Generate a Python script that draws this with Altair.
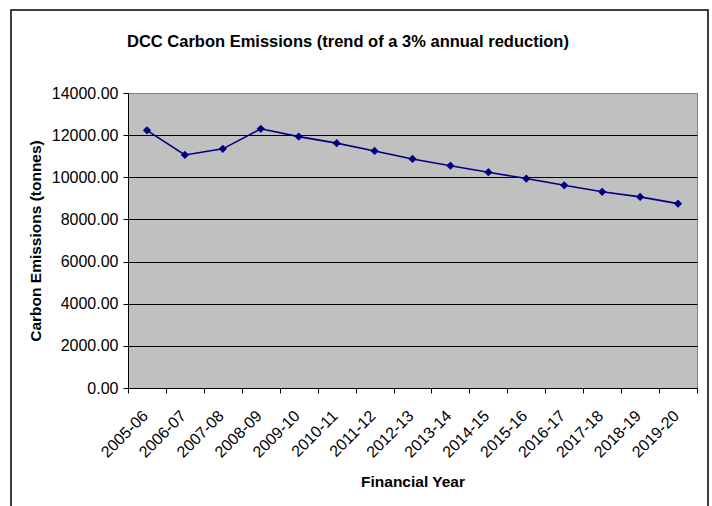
import altair as alt
import pandas as pd

# Financial years and estimated carbon emissions (tonnes)
years = ["2005-06", "2006-07", "2007-08", "2008-09", "2009-10", "2010-11",
         "2011-12", "2012-13", "2013-14", "2014-15", "2015-16", "2016-17",
         "2017-18", "2018-19", "2019-20"]
emissions = [12230, 11060, 11350, 12300, 11930, 11620, 11250, 10870,
             10550, 10240, 9940, 9620, 9310, 9070, 8750]
y_ticks = [0, 2000, 4000, 6000, 8000, 10000, 12000, 14000]

FONT = "Liberation Sans, Arial, sans-serif"
NAVY = "#000080"

df = pd.DataFrame({"year": years, "emissions": emissions})

x_enc = alt.X(
    "year:O",
    sort=years,
    scale=alt.Scale(type="band", paddingInner=0, paddingOuter=0),
    axis=alt.Axis(
        title="Financial Year",
        tickBand="extent",
        labelAngle=-45,
        labelAlign="right",
        labelBaseline="middle",
        labelPadding=20,
        labelOffset=-2,
        labelFontSize=16,
        labelFont=FONT,
        labelColor="black",
        tickColor="black",
        tickSize=5,
        domainColor="black",
        titleFont=FONT,
        titleFontSize=15.5,
        titleFontWeight="bold",
        titleColor="black",
        titleX=284.5,
        titleY=98,
        titleBaseline="alphabetic",
        titleAlign="center",
        grid=False,
    ),
)

y_enc = alt.Y(
    "emissions:Q",
    scale=alt.Scale(domain=[0, 14000], nice=False),
    axis=alt.Axis(
        title="Carbon Emissions (tonnes)",
        values=y_ticks,
        format=".2f",
        labelFontSize=16,
        labelFont=FONT,
        labelColor="black",
        labelPadding=5,
        tickColor="black",
        tickSize=5,
        domainColor="black",
        grid=True,
        gridColor={"condition": {"test": "datum.value == 14000", "value": "#808080"},
                   "value": "black"},
        gridOpacity=1,
        titleFont=FONT,
        titleFontSize=15.5,
        titleFontWeight="bold",
        titleColor="black",
        titleX=-93,
        titleY=147.5,
        titleAngle=-90,
        titleAlign="center",
        titleBaseline="middle",
    ),
)

line = alt.Chart(df).mark_line(color=NAVY, strokeWidth=1.6).encode(x=x_enc, y=y_enc)
points = alt.Chart(df).mark_point(
    shape="diamond", filled=True, color=NAVY, size=68, opacity=1
).encode(x=x_enc, y=y_enc)

# outer frame around the whole chart
frame = alt.Chart(pd.DataFrame({"k": [0]})).mark_rect(
    fill="white", fillOpacity=0, stroke="black", strokeWidth=1.5
).encode(
    x=alt.value(-117), x2=alt.value(580), y=alt.value(-83), y2=alt.value(440)
)

chart = (
    alt.layer(frame, line, points)
    .properties(
        width=569,
        height=295,
        background="white",
        title=alt.TitleParams(
            "DCC Carbon Emissions (trend of a 3% annual reduction)",
            anchor="start",
            frame="group",
            font=FONT,
            fontSize=16.5,
            fontWeight="bold",
            color="black",
            baseline="alphabetic",
            offset=-54,
            dx=-1,
        ),
        autosize=alt.AutoSizeParams(type="none"),
        padding={"left": 128, "top": 93, "right": 15, "bottom": 118},
    )
    .configure_view(fill="#C0C0C0", stroke="#808080", strokeWidth=1)
)

chart.save("out.html", embed_options={"renderer": "svg", "actions": False})
